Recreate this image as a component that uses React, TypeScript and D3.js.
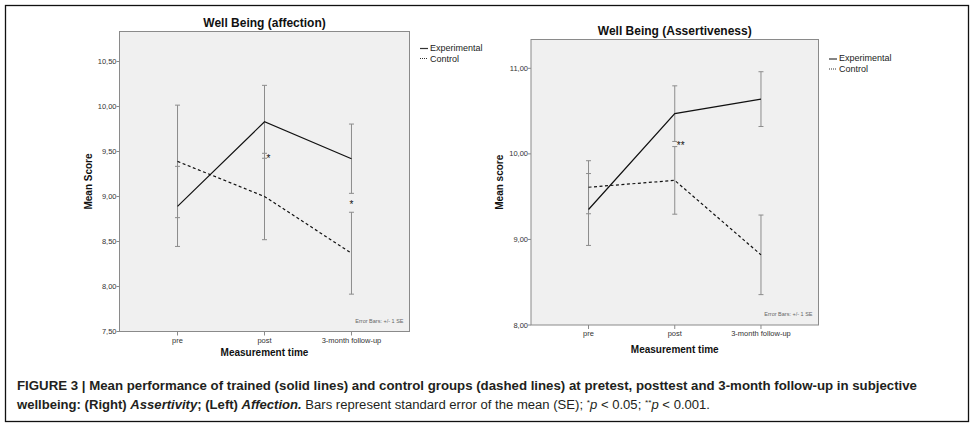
import React from "react";
import * as d3 from "d3";

const categories = ["pre", "post", "3-month follow-up"];

const affectionExp = [8.89, 9.83, 9.42];
const affectionExpSE = [0.445, 0.405, 0.385];
const affectionCtl = [9.39, 9.0, 8.37];
const affectionCtlSE = [0.625, 0.48, 0.455];
const affectionTicks = [7.5, 8.0, 8.5, 9.0, 9.5, 10.0, 10.5];

const assertExp = [9.35, 10.47, 10.64];
const assertExpSE = [0.42, 0.325, 0.32];
const assertCtl = [9.61, 9.69, 8.82];
const assertCtlSE = [0.31, 0.395, 0.465];
const assertTicks = [8.0, 9.0, 10.0, 11.0];

const seriesNames = ["Experimental", "Control"];

type Star = { cat: number; value: number; text: string; dx: number; anchor: string };

const affectionStars: Star[] = [
  { cat: 1, value: 9.44, text: "*", dx: 2, anchor: "start" },
  { cat: 2, value: 8.93, text: "*", dx: 0, anchor: "middle" },
];
const assertStars: Star[] = [{ cat: 1, value: 10.11, text: "**", dx: 2, anchor: "start" }];

const FONT = "'Liberation Sans', Arial, Helvetica, sans-serif";

interface PanelProps {
  title: string;
  yLabel: string;
  x0: number; x1: number; y0: number; y1: number;
  yMin: number; yMaxTick: number; yMaxTickPx: number;
  ticks: number[];
  exp: number[]; expSE: number[]; ctl: number[]; ctlSE: number[];
  stars: Star[];
  legendX: number; legendY: number;
  titleY: number;
  xLabelY: number;
}

function Panel(p: PanelProps) {
  const unit = (p.y1 - p.yMaxTickPx) / (p.yMaxTick - p.yMin);
  const yTop = p.yMaxTick + (p.yMaxTickPx - p.y0) / unit;
  const y = d3.scaleLinear().domain([p.yMin, yTop]).range([p.y1, p.y0]);
  const x = d3.scalePoint<string>().domain(categories).range([p.x0, p.x1]).padding(0.667);
  const xp = (i: number) => x(categories[i]) as number;
  const line = d3.line<number>().x((_, i) => xp(i)).y((d) => y(d));
  const fmt = (v: number) => d3.format(".2f")(v).replace(".", ",");
  const cap = 2.5;
  const bars = (vals: number[], se: number[], key: string) =>
    vals.map((v, i) => {
      const cx = xp(i);
      const top = y(v + se[i]);
      const bot = y(v - se[i]);
      return (
        <g key={key + i} stroke="#8c8c8c" strokeWidth={1}>
          <line x1={cx} x2={cx} y1={top} y2={bot} />
          <line x1={cx - cap} x2={cx + cap} y1={top} y2={top} />
          <line x1={cx - cap} x2={cx + cap} y1={bot} y2={bot} />
        </g>
      );
    });
  const cx = (p.x0 + p.x1) / 2;
  return (
    <g fontFamily={FONT}>
      <text x={cx} y={p.titleY} textAnchor="middle" fontSize={12} fontWeight="bold" fill="#111">
        {p.title}
      </text>
      <rect x={p.x0} y={p.y0} width={p.x1 - p.x0} height={p.y1 - p.y0} fill="#f0f0f0" stroke="#8a8a8a" strokeWidth={1} />
      {p.ticks.map((t) => (
        <g key={t}>
          <line x1={p.x0 - 3} x2={p.x0} y1={y(t)} y2={y(t)} stroke="#8a8a8a" />
          <text x={p.x0 - 3} y={y(t) + 2.5} textAnchor="end" fontSize={7.5} fill="#333">
            {fmt(t)}
          </text>
        </g>
      ))}
      {categories.map((c, i) => (
        <g key={c}>
          <line x1={xp(i)} x2={xp(i)} y1={p.y1} y2={p.y1 + 4} stroke="#8a8a8a" />
          <text x={xp(i)} y={p.y1 + 11} textAnchor="middle" fontSize={7.5} fill="#333">
            {c}
          </text>
        </g>
      ))}
      <text x={cx} y={p.xLabelY} textAnchor="middle" fontSize={10} fontWeight="bold" fill="#111">
        Measurement time
      </text>
      <text
        transform={`translate(${p.x0 - 28},${(p.y0 + p.y1) / 2}) rotate(-90)`}
        textAnchor="middle"
        fontSize={10}
        fontWeight="bold"
        fill="#111"
      >
        {p.yLabel}
      </text>
      {bars(p.exp, p.expSE, "e")}
      {bars(p.ctl, p.ctlSE, "c")}
      <path d={line(p.exp) || ""} fill="none" stroke="#111" strokeWidth={1.2} />
      <path d={line(p.ctl) || ""} fill="none" stroke="#111" strokeWidth={1.2} strokeDasharray="3,2.5" />
      {p.stars.map((s, i) => (
        <text key={i} x={xp(s.cat) + s.dx} y={y(s.value) + 5} textAnchor={s.anchor as any} fontSize={10} fill="#111">
          {s.text}
        </text>
      ))}
      <text x={p.x1 - 6} y={p.y1 - 9} textAnchor="end" fontSize={5.5} fill="#666">
        Error Bars: +/- 1 SE
      </text>
      {seriesNames.map((n, i) => (
        <g key={n}>
          <line
            x1={p.legendX}
            x2={p.legendX + 8}
            y1={p.legendY + i * 11 + (i === 0 ? 1 : 0)}
            y2={p.legendY + i * 11 + (i === 0 ? 1 : 0)}
            stroke="#333"
            strokeWidth={i === 0 ? 1.2 : 1}
            strokeDasharray={i === 0 ? undefined : "1,1"}
          />
          <text x={p.legendX + 10} y={p.legendY + i * 11 + 3} fontSize={9} fill="#222">
            {n}
          </text>
        </g>
      ))}
    </g>
  );
}

export default function App() {
  return (
    <svg
      width={974}
      height={427}
      viewBox="0 0 974 427"
      style={{ position: "absolute", left: 0, top: 0, display: "block", background: "#fff" }}
    >
      <rect x={5.5} y={5.5} width={963} height={416} fill="#fff" stroke="#111" strokeWidth={1.3} />
      <Panel
        title="Well Being (affection)"
        yLabel="Mean Score"
        x0={119.5} x1={409.5} y0={31.5} y1={331.5}
        yMin={7.5} yMaxTick={10.5} yMaxTickPx={61.5}
        ticks={affectionTicks}
        exp={affectionExp} expSE={affectionExpSE}
        ctl={affectionCtl} ctlSE={affectionCtlSE}
        stars={affectionStars}
        legendX={420} legendY={47.5}
        titleY={26.5}
        xLabelY={356}
      />
      <Panel
        title="Well Being (Assertiveness)"
        yLabel="Mean score"
        x0={531} x1={818.5} y0={39.5} y1={325}
        yMin={8} yMaxTick={11} yMaxTickPx={68.3}
        ticks={assertTicks}
        exp={assertExp} expSE={assertExpSE}
        ctl={assertCtl} ctlSE={assertCtlSE}
        stars={assertStars}
        legendX={829} legendY={58}
        titleY={34.5}
        xLabelY={353}
      />
      <g fontFamily={FONT} fontSize={12.5} fill="#231f20">
        <text x={17} y={390} textLength={900} lengthAdjust="spacingAndGlyphs" fontWeight="bold">
          FIGURE 3 | Mean performance of trained (solid lines) and control groups (dashed lines) at pretest, posttest and 3-month follow-up in subjective
        </text>
        <text x={17} y={409} textLength={693} lengthAdjust="spacingAndGlyphs">
          <tspan fontWeight="bold">wellbeing: (Right) </tspan>
          <tspan fontWeight="bold" fontStyle="italic">Assertivity</tspan>
          <tspan fontWeight="bold">; (Left) </tspan>
          <tspan fontWeight="bold" fontStyle="italic">Affection.</tspan>
          <tspan> Bars represent standard error of the mean (SE); </tspan>
          <tspan fontSize={8} dy={-4}>*</tspan>
          <tspan fontStyle="italic" dy={4}>p</tspan>
          <tspan> &lt; 0.05; </tspan>
          <tspan fontSize={8} dy={-4}>**</tspan>
          <tspan fontStyle="italic" dy={4}>p</tspan>
          <tspan> &lt; 0.001.</tspan>
        </text>
      </g>
    </svg>
  );
}
